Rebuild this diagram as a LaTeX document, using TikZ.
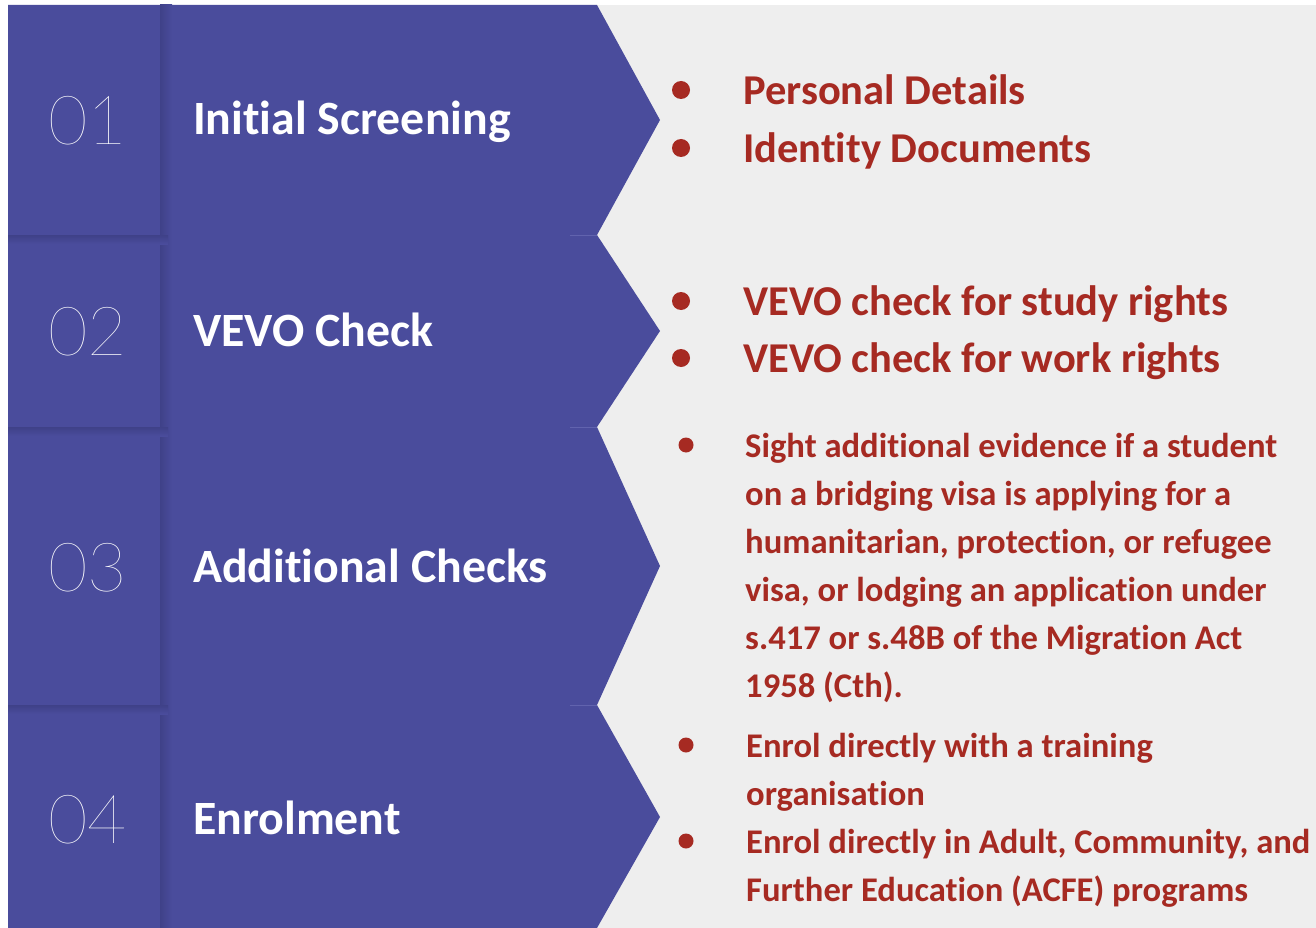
\documentclass[tikz,border=0pt]{standalone}
\usepackage{fontspec}
\setmainfont{Carlito}[Ligatures=NoCommon]
\newfontfamily\thinfont{Lato Thin}
\definecolor{purp}{HTML}{4A4C9C}
\definecolor{purpdark}{HTML}{3F4188}
\definecolor{purplight}{HTML}{6163AE}
\definecolor{bggray}{HTML}{EEEEEE}
\definecolor{redtxt}{HTML}{A62A22}
\tikzset{
  num/.style={anchor=base west, inner sep=0pt, text=white, font=\thinfont\fontsize{68}{68}\selectfont},
  title/.style={anchor=base west, inner sep=0pt, text=white, font=\bfseries\fontsize{47.8}{50}\selectfont},
  bigitem/.style={anchor=base west, inner sep=0pt, text=redtxt, font=\bfseries\fontsize{42.5}{59}\selectfont},
  smallitem/.style={anchor=base west, inner sep=0pt, text=redtxt, align=left, font=\bfseries\fontsize{34.6}{48}\selectfont},
  bigdot/.style={fill=redtxt},
  notchline/.style={draw=purplight, line width=0.8pt},
}
\begin{document}
\begin{tikzpicture}[x=1pt,y=-1pt]
\useasboundingbox (0,0) rectangle (1316,928);
\fill[white] (0,0) rectangle (1316,928);
\fill[bggray] (560,5) rectangle (1316,928);
\fill[purp] (8,5) -- (597,5) -- (660,120) -- (597,235) -- (660,331) -- (597,427)
  -- (660,566) -- (597,705) -- (660,817) -- (597,928) -- (8,928) -- cycle;
% shadows
\shade[left color=purpdark, right color=purp] (160,5) rectangle (172,928);
\foreach \yb in {235,427,705}{
  \shade[top color=purpdark, bottom color=purp] (8,\yb) rectangle (168,\yb+9);
  \draw[notchline] (570,\yb) -- (597,\yb);
}
% numbers
\node[num] (n1) at (48,145) {01};
\node[num] (n2) at (48,355) {02};
\node[num] (n3) at (48,591) {03};
\node[num] (n4) at (48,843) {04};
% titles
\node[title] (t1) at (193,135) {Initial Screening};
\node[title] (t2) at (193,346) {VEVO Check};
\node[title] (t3) at (193,582) {Additional Checks};
\node[title] (t4) at (193,834) {Enrolment};
% row 1
\fill[bigdot] (681,90) circle[radius=9pt];
\fill[bigdot] (681,148) circle[radius=9pt];
\node[bigitem] (a1) at (743,104.5) {Personal Details};
\node[bigitem] (a2) at (743,162.5) {Identity Documents};
% row 2
\fill[bigdot] (681,301) circle[radius=9pt];
\fill[bigdot] (681,358) circle[radius=9pt];
\node[bigitem] (b1) at (743,315.5) {VEVO check for study rights};
\node[bigitem] (b2) at (743,372.5) {VEVO check for work rights};
% row 3 (anchor = baseline of last line)
\fill[bigdot] (686,445) circle[radius=7.5pt];
\node[smallitem] (c1) at (745,697) {Sight additional evidence if a student\\
on a bridging visa is applying for a\\
humanitarian, protection, or refugee\\
visa, or lodging an application under\\
s.417 or s.48B of the Migration Act\\
1958 (Cth).};
% row 4
\fill[bigdot] (686,745) circle[radius=7.5pt];
\fill[bigdot] (686,841) circle[radius=7.5pt];
\node[smallitem] (d1) at (746,805) {Enrol directly with a training\\
organisation};
\node[smallitem] (d2) at (746,901) {Enrol directly in Adult, Community, and\\
Further Education (ACFE) programs};
\end{tikzpicture}
\end{document}
